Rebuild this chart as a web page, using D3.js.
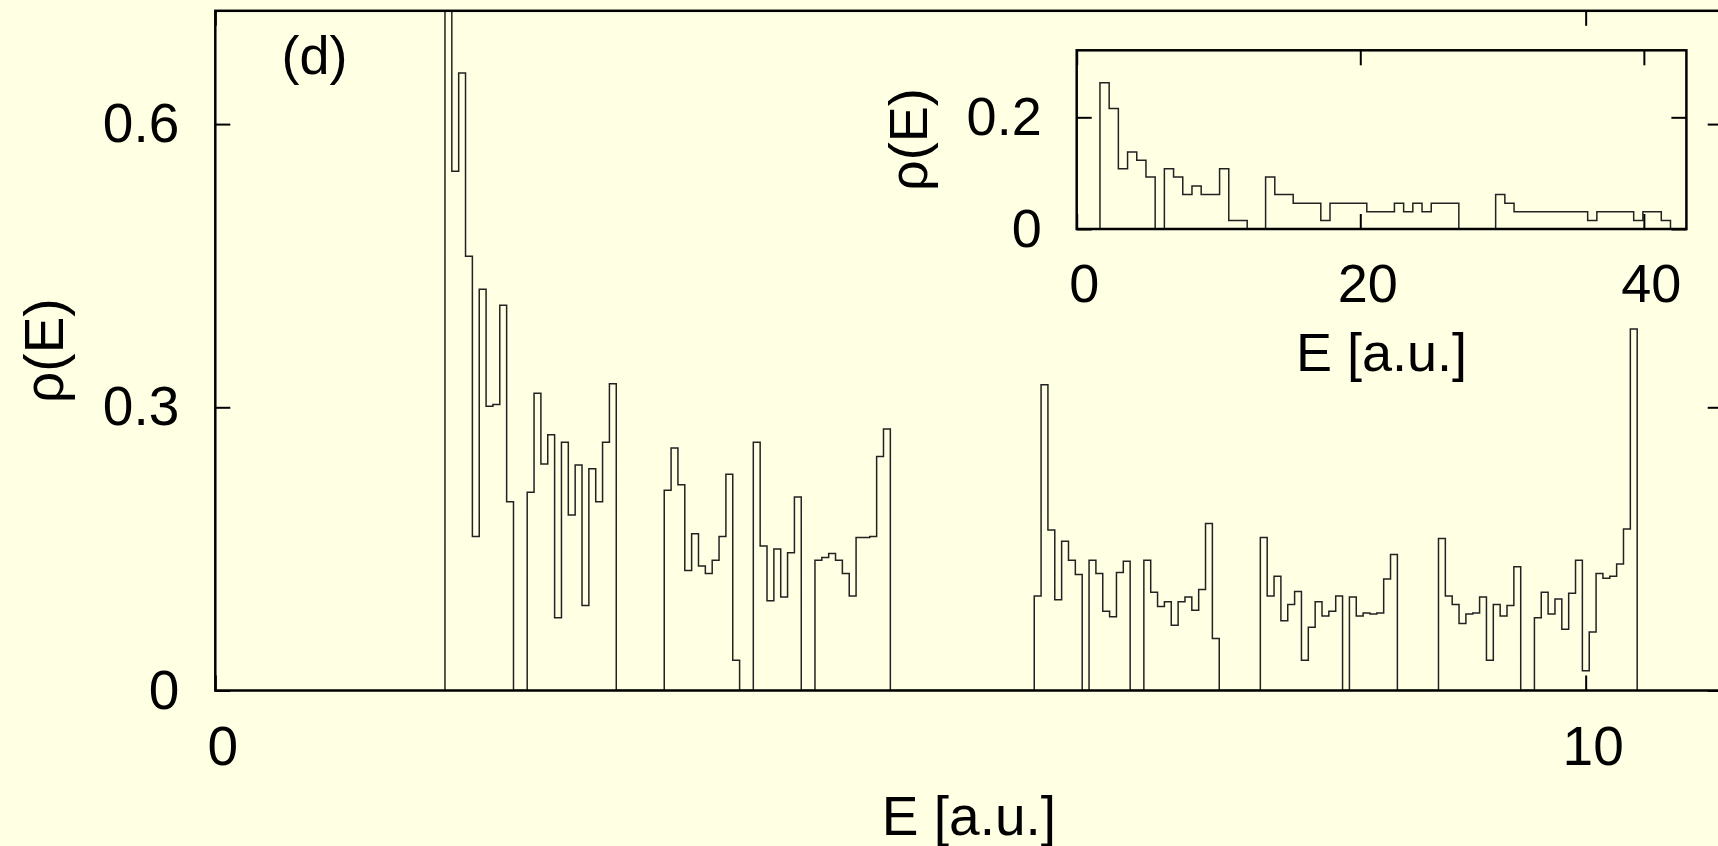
<!DOCTYPE html>
<html>
<head>
<meta charset="utf-8">
<script src="https://cdnjs.cloudflare.com/ajax/libs/d3/7.8.5/d3.min.js"></script>
<style>
  html, body { margin: 0; padding: 0; background: #ffffe4; overflow: hidden; }
  svg { display: block; }
  text { font-family: "Liberation Sans", Arial, Helvetica, sans-serif; fill: #000; }
</style>
</head>
<body>
<div id="chart"></div>
<script>
// density of states, bins

// main panel: 174 bins of width 0.05, first edge at E = 1.676
var mainStart = 1.676;
var mainWidth = 0.05;
var mainValues = [
  0.80, 0.550, 0.654, 0.460, 0.163, 0.425, 0.301, 0.303, 0.408, 0.200,
  0, 0, 0.210, 0.315, 0.240, 0.271, 0.077, 0.263, 0.186, 0.239,
  0.090, 0.235, 0.200, 0.263, 0.325, 0, 0, 0, 0, 0,
  0, 0, 0.212, 0.257, 0.218, 0.127, 0.166, 0.132, 0.124, 0.138,
  0.163, 0.229, 0.032, 0, 0, 0.263, 0.153, 0.095, 0.150, 0.099,
  0.146, 0.205, 0, 0, 0.138, 0.141, 0.145, 0.138, 0.124, 0.100,
  0.162, 0.162, 0.163, 0.248, 0.277, 0, 0, 0, 0, 0,
  0, 0, 0, 0, 0, 0, 0, 0, 0, 0,
  0, 0, 0, 0, 0, 0, 0.100, 0.324, 0.170, 0.096,
  0.158, 0.138, 0.123, 0, 0.138, 0.124, 0.084, 0.078, 0.125, 0.137,
  0, 0, 0.138, 0.104, 0.089, 0.094, 0.069, 0.094, 0.099, 0.085,
  0.107, 0.177, 0.055, 0, 0, 0, 0, 0, 0, 0.162,
  0.100, 0.121, 0.074, 0.091, 0.105, 0.032, 0.067, 0.094, 0.079, 0.084,
  0.100, 0, 0.099, 0.079, 0.082, 0.081, 0.082, 0.118, 0.144, 0,
  0, 0, 0, 0, 0, 0.161, 0.100, 0.091, 0.071, 0.081,
  0.082, 0.099, 0.032, 0.091, 0.079, 0.090, 0.131, 0, 0, 0.077,
  0.104, 0.081, 0.097, 0.065, 0.103, 0.138, 0.021, 0.062, 0.124, 0.119,
  0.121, 0.134, 0.171, 0.383
];

// inset: 62 bins of width 0.649, first edge at E = 1.64
var insetStart = 1.64;
var insetWidth = 0.649;
var insetValues = [
  0.262, 0.216, 0.108, 0.138, 0.123, 0.093, 0, 0.108, 0.093, 0.062,
  0.077, 0.062, 0.062, 0.108, 0.015, 0.015, 0, 0, 0.093, 0.062,
  0.062, 0.046, 0.046, 0.046, 0.015, 0.046, 0.046, 0.046, 0.046, 0.031,
  0.031, 0.031, 0.046, 0.031, 0.046, 0.031, 0.046, 0.046, 0.046, 0,
  0, 0, 0, 0.062, 0.046, 0.031, 0.031, 0.031, 0.031, 0.031,
  0.031, 0.031, 0.031, 0.015, 0.031, 0.031, 0.031, 0.031, 0.015, 0.031,
  0.031, 0.015
];

// tick values
var mainXTicks = [0, 10];
var mainYTicks = [0, 0.3, 0.6];
var insetXTicks = [0, 20, 40];
var insetYTicks = [0, 0.2];

var svg = d3.select('#chart')
  .append('svg')
  .attr('width', 1718)
  .attr('height', 846);

// turn bins into the outline of a step histogram
function histPoints(start, width, values) {
  var pts = [[start, 0]];
  values.forEach(function(v, i) {
    pts.push([start + i * width, v]);
    pts.push([start + (i + 1) * width, v]);
  });
  pts.push([start + values.length * width, 0]);
  return pts;
}

function styleAxis(g, fontSize) {
  g.select('.domain').remove();
  g.attr('font-family', null).attr('font-size', fontSize);
  g.selectAll('line').attr('stroke', '#000').attr('stroke-width', 2);
}

function drawPanel(p) {
  var x = d3.scaleLinear().domain(p.xDomain).range([p.left, p.right]);
  var y = d3.scaleLinear().domain(p.yDomain).range([p.bottom, p.top]);
  var g = svg.append('g');

  // panel background
  g.append('rect')
    .attr('x', p.left).attr('y', p.top)
    .attr('width', p.right - p.left).attr('height', p.bottom - p.top)
    .attr('fill', '#ffffe4');

  // clip so the tallest bin stops at the frame
  svg.append('clipPath')
    .attr('id', 'clip-' + p.name)
    .append('rect')
    .attr('x', p.left).attr('y', p.top)
    .attr('width', p.right - p.left).attr('height', p.bottom - p.top);

  var line = d3.line()
    .x(d => x(d[0]))
    .y(d => y(d[1]));

  g.append('path')
    .datum(histPoints(p.start, p.width, p.values))
    .attr('clip-path', 'url(#clip-' + p.name + ')')
    .attr('d', line)
    .attr('fill', 'none')
    .attr('stroke', '#222')
    .attr('stroke-width', 1.5);

  // axes, ticks pointing inwards like gnuplot
  var bottomAxis = d3.axisBottom(x).tickValues(p.xTicks)
    .tickSize(-p.tick).tickPadding(p.xPad).tickFormat(d => d);
  var topAxis = d3.axisTop(x).tickValues(p.xTicks)
    .tickSize(-p.tick).tickFormat('');
  var leftAxis = d3.axisLeft(y).tickValues(p.yTicks)
    .tickSize(-p.tick).tickPadding(p.yPad).tickFormat(d => d);
  var rightAxis = d3.axisRight(y).tickValues(p.yTicks)
    .tickSize(-p.tick).tickFormat('');

  var xAxis = g.append('g')
    .attr('transform', `translate(0, ${p.bottom})`)
    .call(bottomAxis)
    .call(s => styleAxis(s, p.font));
  xAxis.selectAll('text').attr('dx', 7);

  g.append('g')
    .attr('transform', `translate(0, ${p.top})`)
    .call(topAxis)
    .call(s => styleAxis(s, p.font));

  g.append('g')
    .attr('transform', `translate(${p.left}, 0)`)
    .call(leftAxis)
    .call(s => styleAxis(s, p.font));

  g.append('g')
    .attr('transform', `translate(${p.right}, 0)`)
    .call(rightAxis)
    .call(s => styleAxis(s, p.font));

  // frame
  g.append('rect')
    .attr('x', p.left).attr('y', p.top)
    .attr('width', p.right - p.left).attr('height', p.bottom - p.top)
    .attr('fill', 'none')
    .attr('stroke', '#000')
    .attr('stroke-width', 2.5);

  // axis titles
  g.append('text')
    .attr('x', (p.left + p.right) / 2)
    .attr('y', p.xLabelY)
    .attr('text-anchor', 'middle')
    .attr('font-size', p.font)
    .text('E [a.u.]');

  g.append('text')
    .attr('transform', `translate(${p.yLabelX}, ${(p.top + p.bottom) / 2}) rotate(-90)`)
    .attr('dy', '0.26em')
    .attr('text-anchor', 'middle')
    .attr('font-size', p.font)
    .text('ρ(E)');

  return g;
}

// main panel
var mainPanel = drawPanel({
  name: 'main',
  xDomain: [0, 11], yDomain: [0, 0.72],
  left: 215.3, right: 1722.7, top: 10.8, bottom: 690.5,
  start: mainStart, width: mainWidth, values: mainValues,
  xTicks: mainXTicks, yTicks: mainYTicks,
  tick: 15, xPad: 35, yPad: 36, font: 55,
  xLabelY: 835, yLabelX: 49
});

mainPanel.append('text')
  .attr('x', 314.5)
  .attr('y', 74)
  .attr('text-anchor', 'middle')
  .attr('font-size', 54)
  .text('(d)');

// inset panel
drawPanel({
  name: 'inset',
  xDomain: [0, 43], yDomain: [0, 0.32],
  left: 1076.7, right: 1686.4, top: 50.3, bottom: 229,
  start: insetStart, width: insetWidth, values: insetValues,
  xTicks: insetXTicks, yTicks: insetYTicks,
  tick: 15, xPad: 35, yPad: 35, font: 54,
  xLabelY: 371, yLabelX: 913
});
</script>
</body>
</html>
